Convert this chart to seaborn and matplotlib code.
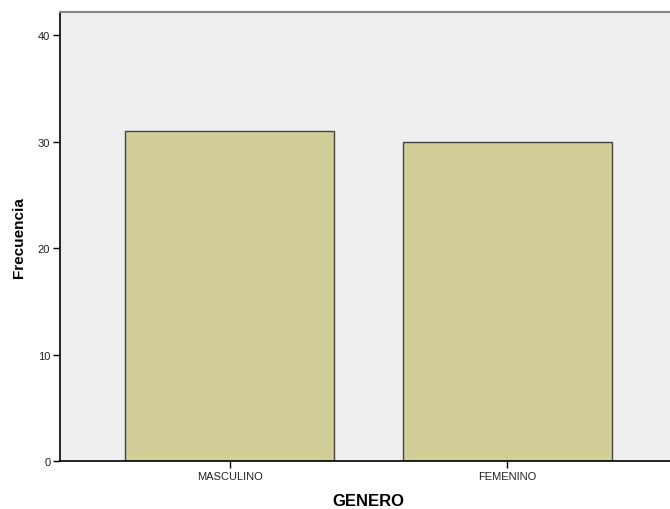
import matplotlib
matplotlib.use("Agg")
import matplotlib.pyplot as plt
import seaborn as sns
import pandas as pd

categorias = ["MASCULINO", "FEMENINO"]
frecuencias = [31, 30]
yticks = [0, 10, 20, 30, 40]

df = pd.DataFrame({"GENERO": categorias, "Frecuencia": frecuencias})

sns.set_style("white")
plt.rcParams["font.family"] = ["Liberation Sans", "DejaVu Sans"]

fig = plt.figure(figsize=(6.7, 5.1), dpi=100)
ax = fig.add_axes([60 / 670, 48 / 510, 617 / 670, 449 / 510])
ax.set_facecolor("#EFEFEF")

sns.barplot(data=df, x="GENERO", y="Frecuencia", color="#D2CE98",
            width=0.75, edgecolor="#444444", linewidth=1.0, saturation=1, ax=ax)

ax.set_xlim(-0.61, 1.61)
ax.set_ylim(0, 42.2)
ax.set_yticks(yticks)
ax.set_yticklabels([str(t) for t in yticks], fontsize=8, color="#222222")
ax.set_xticklabels(categorias, fontsize=8, color="#222222")
ax.tick_params(axis="both", direction="out", length=5, width=1, color="black",
               left=True, bottom=True, pad=2)

for side in ["left", "bottom"]:
    ax.spines[side].set_color("black")
    ax.spines[side].set_linewidth(1.2)
ax.spines["top"].set_color("#888888")
ax.spines["top"].set_linewidth(1.5)
ax.spines["right"].set_visible(False)

ax.set_ylabel("Frecuencia", fontsize=11, fontweight="bold", labelpad=8.5, color="black")
ax.set_xlabel("GENERO", fontsize=12, fontweight="bold", labelpad=9, color="black")

fig.savefig("out.png", dpi=100)
